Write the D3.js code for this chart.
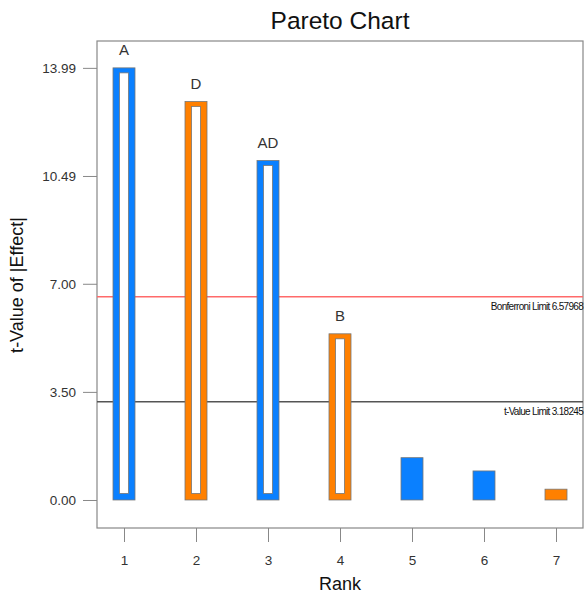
<!DOCTYPE html>
<html><head><meta charset="utf-8">
<script src="https://cdn.jsdelivr.net/npm/d3@7"></script>
<style>body{margin:0;background:#fff;} svg{display:block;font-family:Arial,"Liberation Sans",sans-serif;}</style>
</head><body>
<script>
const ranks = [1,2,3,4,5,6,7];
const values = [13.99, 12.9, 10.99, 5.38, 1.37, 0.94, 0.35];
const labels = ["A","D","AD","B","","",""];
const signs = ["pos","neg","pos","neg","pos","pos","neg"];
const hollow = [true,true,true,true,false,false,false];
const yTicks = [0.00, 3.50, 7.00, 10.49, 13.99];
const limits = [{name:"Bonferroni Limit 6.57968", value:6.57968, color:"#ff6a6a"},
                {name:"t-Value Limit 3.18245", value:3.18245, color:"#555555"}];

const W=586,H=602;
const svg=d3.select("body").append("svg").attr("width",W).attr("height",H);
const L=97,R=583,T=41,B=528;
const y=d3.scaleLinear().domain([-0.907,14.86]).range([B,T]);
const x=d3.scaleLinear().domain([1,7]).range([124,556]);
const color={pos:"#0a80ff",neg:"#ff8000"};
const bw=22, bd=6.5;

svg.append("text").attr("x",340).attr("y",29).attr("text-anchor","middle")
  .attr("font-size",24.5).attr("fill","#111").text("Pareto Chart");

// axes
const ya=svg.append("g").attr("transform",`translate(${L},0)`)
  .call(d3.axisLeft(y).tickValues(yTicks).tickFormat(d3.format(".2f")).tickSize(14).tickSizeOuter(0));
const xa=svg.append("g").attr("transform",`translate(0,${B})`)
  .call(d3.axisBottom(x).tickValues(ranks).tickFormat(d3.format("d")).tickSize(14).tickSizeOuter(0));
[ya,xa].forEach(g=>{g.select(".domain").remove();g.selectAll("line").attr("stroke","#888");
  g.selectAll("text").attr("font-size",13.5).attr("fill","#333").attr("font-family","Arial,'Liberation Sans',sans-serif");});
ya.selectAll("text").attr("dx",-4);
xa.selectAll("text").attr("dy","1.5em");

svg.append("rect").attr("x",L).attr("y",T).attr("width",R-L).attr("height",B-T)
  .attr("fill","none").attr("stroke","#888").attr("stroke-width",1.2);

// limit lines
limits.forEach(l=>{
  svg.append("line").attr("x1",L).attr("x2",R).attr("y1",y(l.value)).attr("y2",y(l.value))
    .attr("stroke",l.color).attr("stroke-width",1.5);
  svg.append("text").attr("x",R).attr("y",y(l.value)+13).attr("text-anchor","end")
    .attr("font-size",10).attr("letter-spacing",-0.7).attr("fill","#111").text(l.name);
});

// bars
const g=svg.append("g");
ranks.forEach((r,i)=>{
  const x0=x(r)-bw/2, y0=y(values[i]), y1=y(0);
  g.append("rect").attr("x",x0).attr("y",y0).attr("width",bw).attr("height",y1-y0)
    .attr("fill",color[signs[i]]).attr("stroke","#777").attr("stroke-width",0.8);
  if(hollow[i]){
    g.append("rect").attr("x",x0+bd).attr("y",y0+5).attr("width",bw-2*bd).attr("height",y1-y0-5-bd)
      .attr("fill","#fff").attr("stroke","#777").attr("stroke-width",0.8);
  }
  if(labels[i]) g.append("text").attr("x",x(r)).attr("y",y0-13).attr("text-anchor","middle")
    .attr("font-size",15).attr("fill","#333").text(labels[i]);
});

svg.append("text").attr("transform",`translate(23,285) rotate(-90)`).attr("text-anchor","middle")
  .attr("font-size",18).attr("fill","#111").text("t-Value of |Effect|");
svg.append("text").attr("x",340).attr("y",590).attr("text-anchor","middle")
  .attr("font-size",18).attr("fill","#111").text("Rank");
</script>
</body></html>
